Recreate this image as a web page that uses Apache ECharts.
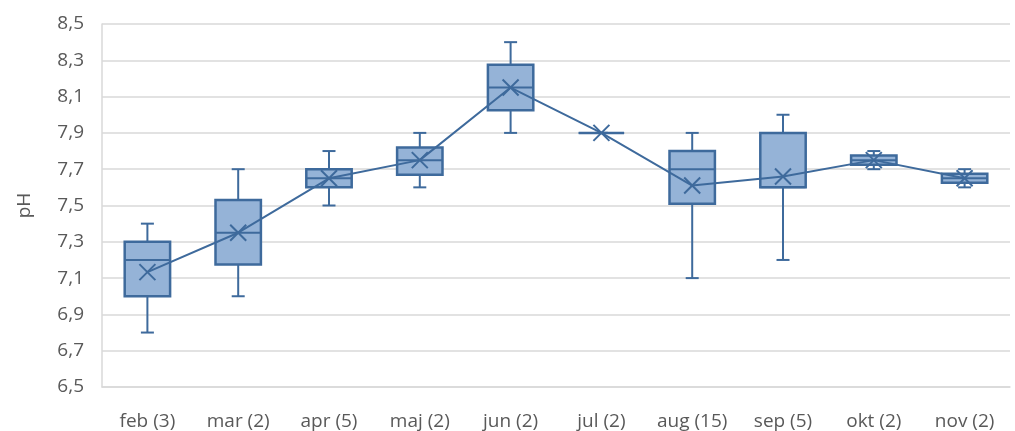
<!DOCTYPE html>
<html><head><meta charset="utf-8">
<script src="https://cdn.jsdelivr.net/npm/echarts@6/dist/echarts.min.js"></script>
<style>html,body{margin:0;padding:0;background:#fff}#c{width:1015px;height:431px}</style>
</head><body><div id="c"></div>
<script>
const categories = ['feb (3)','mar (2)','apr (5)','maj (2)','jun (2)','jul (2)','aug (15)','sep (5)','okt (2)','nov (2)'];
const lows    = [6.8, 7.0, 7.5, 7.6, 7.9, 7.9, 7.1, 7.2, 7.7, 7.6];
const q1s     = [7.0, 7.175, 7.6, 7.67, 8.025, 7.9, 7.51, 7.6, 7.725, 7.625];
const medians = [7.2, 7.35, 7.65, 7.75, 8.15, 7.9, 7.7, 7.6, 7.75, 7.65];
const q3s     = [7.3, 7.53, 7.7, 7.82, 8.275, 7.9, 7.8, 7.9, 7.775, 7.675];
const highs   = [7.4, 7.7, 7.8, 7.9, 8.4, 7.9, 7.9, 8.0, 7.8, 7.7];
const means   = [7.133, 7.35, 7.65, 7.75, 8.15, 7.9, 7.61, 7.66, 7.75, 7.65];

const boxData = categories.map((c,i)=>[i, lows[i], q1s[i], medians[i], q3s[i], highs[i]]);
const STROKE = '#3e6a9c', FILL = '#95b3d7';
const FONT = 'Open Sans, Liberation Sans, Arial';

const chart = echarts.init(document.getElementById('c'));
chart.setOption({
  animation:false,
  grid:{left:102,right:5,top:24,bottom:44},
  xAxis:{type:'category',data:categories,
    axisLine:{lineStyle:{color:'#d9d9d9',width:1.5}},axisTick:{show:false},
    axisLabel:{color:'#595959',fontSize:19,fontFamily:FONT,margin:25,interval:0,hideOverlap:false}},
  yAxis:{type:'value',min:6.5,max:8.5,interval:0.2,name:'pH',nameLocation:'middle',nameGap:68,
    nameTextStyle:{color:'#595959',fontSize:19,fontFamily:FONT},
    axisLine:{show:true,lineStyle:{color:'#d9d9d9',width:1.5}},
    splitLine:{lineStyle:{color:'#d9d9d9',width:1.5}},
    axisLabel:{color:'#595959',fontSize:19,fontFamily:FONT,margin:18,
      formatter:v=>v.toFixed(1).replace('.',',')}},
  series:[
    {type:'custom',data:boxData,encode:{x:0,y:[1,2,3,4,5]},z:2,
     renderItem:function(params,api){
       const x=api.value(0);
       const pL=api.coord([x,api.value(1)]), p1=api.coord([x,api.value(2)]),
             pM=api.coord([x,api.value(3)]), p3=api.coord([x,api.value(4)]),
             pH=api.coord([x,api.value(5)]);
       const bw=api.size([1,0])[0]*0.5, cx=pM[0], cap=13;
       const ls={stroke:STROKE,lineWidth:2,fill:null};
       return {type:'group',children:[
         {type:'line',shape:{x1:cx,y1:pH[1],x2:cx,y2:p3[1]},style:ls},
         {type:'line',shape:{x1:cx,y1:p1[1],x2:cx,y2:pL[1]},style:ls},
         {type:'line',shape:{x1:cx-cap/2,y1:pH[1],x2:cx+cap/2,y2:pH[1]},style:ls},
         {type:'line',shape:{x1:cx-cap/2,y1:pL[1],x2:cx+cap/2,y2:pL[1]},style:ls},
         {type:'rect',shape:{x:cx-bw/2,y:p3[1],width:bw,height:p1[1]-p3[1]},style:{fill:FILL,stroke:STROKE,lineWidth:2.5}},
         {type:'line',shape:{x1:cx-bw/2,y1:pM[1],x2:cx+bw/2,y2:pM[1]},style:ls}
       ]};
     }},
    {type:'line',data:means,z:3,
     lineStyle:{color:STROKE,width:2},
     symbol:'path://M0,0L10,10M10,0L0,10',symbolSize:16,showAllSymbol:true,
     itemStyle:{color:'rgba(0,0,0,0)',borderColor:STROKE,borderWidth:2}}
  ]
});
</script></body></html>
